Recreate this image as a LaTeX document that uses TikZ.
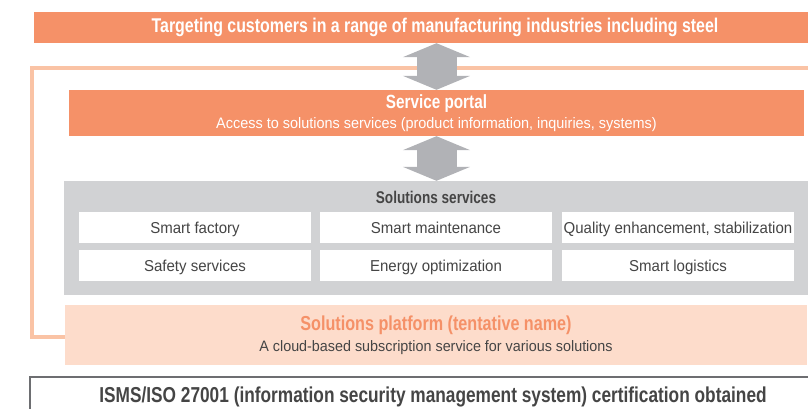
\documentclass[tikz,border=0pt]{standalone}
\usepackage{fontspec}
\setmainfont{Liberation Sans}[FakeStretch=0.95]
\newfontfamily\headfont{Liberation Sans}[FakeStretch=0.8]
\usetikzlibrary{shapes,arrows,arrows.meta,positioning,backgrounds}

\definecolor{bandorange}{HTML}{F59168}
\definecolor{frameorange}{HTML}{FAC3A5}
\definecolor{platformpeach}{HTML}{FDDCCB}
\definecolor{panelgray}{HTML}{D1D2D4}
\definecolor{arrowgray}{HTML}{B1B2B6}
\definecolor{textgray}{HTML}{454545}
\definecolor{bordergray}{HTML}{6D6E71}

\begin{document}
\begin{tikzpicture}[x=1pt, y=-1pt,
    band/.style={rectangle, fill=bandorange, text=white, inner sep=0pt, align=center},
    panel/.style={rectangle, fill=panelgray, inner sep=0pt},
    cell/.style={rectangle, fill=white, text=textgray, minimum width=232pt, minimum height=31pt, inner sep=0pt, text height=12.5pt, text depth=0pt, font=\fontsize{15.8}{18}\selectfont},
    platformbox/.style={rectangle, fill=platformpeach, inner sep=0pt, align=center},
    certbox/.style={rectangle, draw=bordergray, line width=1.5pt, fill=white, text=textgray, inner sep=0pt},
    link/.style={draw=arrowgray, line width=40pt, {Triangle[length=14pt, width=67pt]}-{Triangle[length=14pt, width=67pt]}},
    frameline/.style={draw=frameorange, line width=3.5pt}
]
\clip (0,0) rectangle (808,408);

% Customer band
\node[band, minimum width=802pt, minimum height=31pt, font=\headfont\bfseries\fontsize{19.9}{20}\selectfont] at (435,27.5) (customers) {Targeting customers in a range of manufacturing industries including steel};

% Service portal
\node[band, minimum width=735pt, minimum height=46pt, font=\fontsize{15.2}{20}\selectfont] at (436.5,113) (portal) {
    {\headfont\bfseries\fontsize{19.1}{20}\selectfont Service portal} \\
    Access to solutions services (product information, inquiries, systems)
};

% Solutions services
\node[panel, minimum width=744pt, minimum height=114pt] at (436,238) (services) {};
\node[text=textgray, font=\headfont\bfseries\fontsize{17}{18}\selectfont] at (436,197) (servicestitle) {Solutions services};
\node[cell] at (195,227.5) (factory) {Smart factory};
\node[cell] at (436,227.5) (maintenance) {Smart maintenance};
\node[cell] at (678,227.5) (quality) {Quality enhancement, stabilization};
\node[cell] at (195,265.5) (safety) {Safety services};
\node[cell] at (436,265.5) (energy) {Energy optimization};
\node[cell] at (678,265.5) (logistics) {Smart logistics};

% Solutions platform
\node[platformbox, minimum width=742pt, minimum height=60pt, font=\fontsize{15.1}{21}\selectfont] at (436,335) (platform) {
    {\color{bandorange}\headfont\bfseries\fontsize{20.2}{21}\selectfont Solutions platform (tentative name)} \\
    {\color{textgray}A cloud-based subscription service for various solutions}
};

% Certification
\node[certbox, minimum width=806pt, minimum height=40pt, font=\headfont\bfseries\fontsize{21.6}{22}\selectfont] at (433,397) (cert) {ISMS/ISO 27001 (information security management system) certification obtained};

% Frame around portal and services
\coordinate (frameend) at (808,68);
\begin{scope}[on background layer]
\draw[frameline] (frameend) -- (32,68) -- (32,337) -- (platform.west |- 0,337);
\end{scope}

% Arrows
\draw[link] (portal.north |- customers.south) -- (portal.north);
\draw[link] (portal.south) -- (portal.south |- services.north);

\end{tikzpicture}
\end{document}
